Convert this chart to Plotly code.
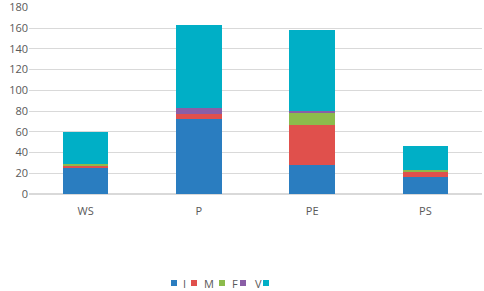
import plotly.graph_objects as go

categories = ["WS", "P", "PE", "PS"]
series_names = ["I", "M", "F", "V", ""]
I_vals = [25, 72, 28, 16]
M_vals = [2, 5, 39, 5]
F_vals = [2, 0, 12, 2]
V_vals = [0, 6, 1, 0]
C_vals = [31, 80, 78, 23]
y_ticks = [0, 20, 40, 60, 80, 100, 120, 140, 160, 180]

colors = ["#2a7dc0", "#e0504c", "#8cbb4c", "#8a5ea6", "#00afc6"]
values = [I_vals, M_vals, F_vals, V_vals, C_vals]

W, H = 484, 291
ML, MR, MT, MB = 29, 2, 7, 97
PW = W - ML - MR
PH = H - MT - MB

fig = go.Figure()
for name, vals, col in zip(series_names, values, colors):
    fig.add_trace(go.Bar(x=categories, y=vals, name=name, marker_color=col,
                         marker_line_width=0, showlegend=False))

# compact legend drawn as shapes + text (positions in pixels converted to paper coords)
legend_square_px = [174, 194, 222, 243, 266]
legend_text_px = [184, 209, 235, 258, None]
legend_y_px = 283
shapes = []
annotations = []
for i, (name, col) in enumerate(zip(series_names, colors)):
    xs = (legend_square_px[i] - ML) / PW
    ys = (H - MB - legend_y_px) / PH
    shapes.append(dict(type="rect", xref="paper", yref="paper",
                       xsizemode="pixel", ysizemode="pixel",
                       xanchor=xs, yanchor=ys, x0=-3, x1=3, y0=-3, y1=3,
                       fillcolor=col, line_width=0))
    if name and legend_text_px[i] is not None:
        annotations.append(dict(text=name, xref="paper", yref="paper",
                                x=(legend_text_px[i] - ML) / PW, y=ys,
                                xanchor="center", yanchor="middle", showarrow=False,
                                font=dict(size=11, color="#595959")))

fig.update_layout(
    barmode="stack",
    bargap=0.6,
    width=W, height=H,
    margin=dict(l=ML, r=MR, t=MT, b=MB, autoexpand=False),
    plot_bgcolor="white", paper_bgcolor="white",
    font=dict(family="Open Sans", size=11, color="#595959"),
    showlegend=False,
    shapes=shapes,
    annotations=annotations,
    xaxis=dict(showgrid=False, showline=True, linecolor="#d9d9d9", ticks="",
               ticklabelstandoff=7,
               tickfont=dict(size=11, color="#595959")),
    yaxis=dict(range=[0, 180.4], tickvals=y_ticks, showgrid=True, gridcolor="#d9d9d9",
               gridwidth=1, zeroline=True, zerolinecolor="#d9d9d9", ticks="",
               ticklabeloverflow="allow",
               tickfont=dict(size=11, color="#595959")),
)

fig.write_html("out.html",
               config={"displayModeBar": False},
               post_script="document.body.style.margin='0';document.body.style.overflow='hidden';")
